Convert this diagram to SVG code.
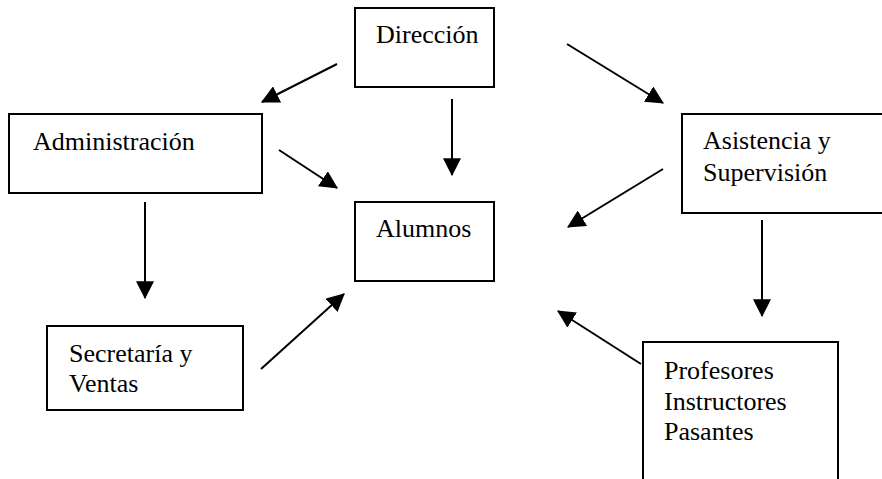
<svg xmlns="http://www.w3.org/2000/svg" width="882" height="479" viewBox="0 0 882 479">
<style>
.box{fill:#fff;stroke:#000;stroke-width:2}
.lbl{font-family:"Liberation Serif","Times New Roman",serif;font-size:26px;fill:#000}
.con{stroke:#000;stroke-width:2;fill:none;marker-end:url(#ah)}
</style>
<defs>
<marker id="ah" markerUnits="userSpaceOnUse" markerWidth="18" markerHeight="18" viewBox="0 0 16 16" refX="15" refY="8" orient="auto">
<path d="M0,0 L16,8 L0,16 Z" fill="#000"/>
</marker>
</defs>
<rect width="882" height="479" fill="#fff"/>
<g id="direccion"><rect class="box" x="355" y="8" width="139" height="79"/><text class="lbl" x="376" y="43">Dirección</text></g>
<g id="administracion"><rect class="box" x="9" y="114" width="253" height="79"/><text class="lbl" x="33" y="150">Administración</text></g>
<g id="asistencia"><rect class="box" x="682" y="114" width="210" height="99"/><text class="lbl" x="703" y="149">Asistencia y</text><text class="lbl" x="703" y="181">Supervisión</text></g>
<g id="alumnos"><rect class="box" x="355" y="202" width="139" height="79"/><text class="lbl" x="376" y="237">Alumnos</text></g>
<g id="secretaria"><rect class="box" x="47" y="326" width="196" height="84"/><text class="lbl" x="69" y="362">Secretaría y</text><text class="lbl" x="69" y="392">Ventas</text></g>
<g id="profesores"><rect class="box" x="643" y="342" width="195" height="150"/><text class="lbl" x="664" y="379">Profesores</text><text class="lbl" x="664" y="410">Instructores</text><text class="lbl" x="664" y="440">Pasantes</text></g>
<g id="connectors">
<line class="con" x1="337" y1="64" x2="262" y2="102"/>
<line class="con" x1="452" y1="99" x2="452" y2="175"/>
<line class="con" x1="567" y1="44" x2="663" y2="103"/>
<line class="con" x1="279" y1="150" x2="337" y2="188"/>
<line class="con" x1="663" y1="169" x2="568" y2="227"/>
<line class="con" x1="145" y1="202" x2="145" y2="298"/>
<line class="con" x1="762" y1="220" x2="762" y2="316"/>
<line class="con" x1="261" y1="369" x2="344" y2="294"/>
<line class="con" x1="641" y1="364" x2="558" y2="311"/>
</g>
</svg>
